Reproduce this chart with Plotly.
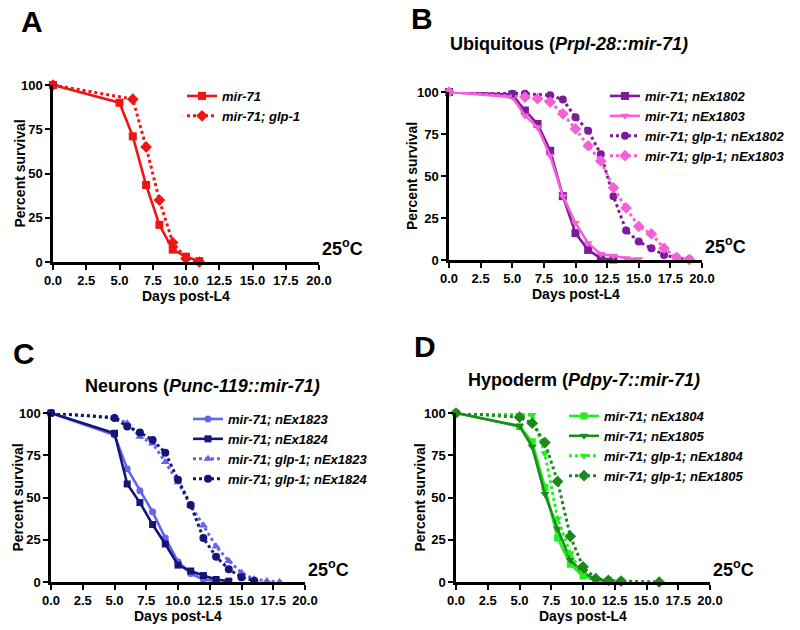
import plotly.graph_objects as go

# ---------------- Data ----------------
# Panel A
days_A_mir71 = [0, 5, 6, 7, 8, 9, 10, 11]
surv_A_mir71 = [100, 90, 71, 43.5, 21, 7, 3, 0.5]
days_A_glp1 = [0, 6, 7, 8, 9, 10, 11]
surv_A_glp1 = [100, 92, 65, 35, 11, 2, 0]

# Panel B
days_B_1802 = [0, 5, 6, 7, 8, 9, 10, 11, 12, 13]
surv_B_1802 = [100, 98.5, 89, 81, 65, 38, 16, 6, 1, 0.3]
days_B_1803 = [0, 5, 6, 7, 8, 9, 10, 11, 12, 13, 14, 15]
surv_B_1803 = [100, 97, 86, 79, 62, 38, 22, 10, 3.5, 2.5, 1, 0.5]
days_B_glp1_1802 = [0, 5, 6, 8, 9, 10, 11, 12, 13, 14, 15, 16, 17, 18, 19]
surv_B_glp1_1802 = [100, 99, 99, 98, 95.5, 85, 77, 63, 38, 17.5, 11, 7, 3, 1.4, 0.4]
days_B_glp1_1803 = [0, 6, 7, 8, 9, 10, 11, 12, 13, 14, 15, 16, 17, 18, 19]
surv_B_glp1_1803 = [100, 97, 96, 94, 87, 78, 68, 59, 43, 31, 20, 15.5, 7, 1.5, 0.3]

# Panel C
days_C_1823 = [0, 5, 6, 7, 8, 9, 10, 11, 12, 13]
surv_C_1823 = [100, 87, 67, 54, 41.5, 26, 12, 5, 1.5, 0.5]
days_C_1824 = [0, 5, 6, 7, 8, 9, 10, 11, 12, 13, 14]
surv_C_1824 = [100, 88, 58, 47, 34, 22.5, 10, 6.5, 3.8, 1.5, 0.5]
days_C_glp1_1823 = [0, 5, 6, 7, 8, 9, 10, 11, 12, 13, 14, 15, 16, 17, 18]
surv_C_glp1_1823 = [100, 97.5, 94, 86, 82, 71, 59, 45, 33.5, 21, 12.5, 5.5, 1.6, 0.6, 0]
days_C_glp1_1824 = [0, 5, 6, 7, 8, 9, 10, 11, 12, 13, 14, 15, 16]
surv_C_glp1_1824 = [100, 97, 92, 88.5, 84, 76.5, 60.5, 45.5, 26, 15, 7.5, 2.8, 0.8]

# Panel D
days_D_1804 = [0, 5, 6, 7, 8, 9, 10, 11, 12, 13]
surv_D_1804 = [100, 92, 83, 56, 26, 10.5, 3.5, 1.5, 1, 0.5]
days_D_1805 = [0, 5, 6, 7, 8, 9, 10, 11, 12]
surv_D_1805 = [100, 92.3, 80, 52, 31.5, 13, 5.5, 1.5, 0.5]
days_D_glp1_1804 = [0, 5, 6, 7, 8, 9, 10, 11]
surv_D_glp1_1804 = [100, 98.8, 98.8, 76, 37.5, 17, 4, 0.5]
days_D_glp1_1805 = [0, 5, 6, 7, 8, 9, 10, 11, 12, 13, 16]
surv_D_glp1_1805 = [100, 97.5, 94, 82.5, 59.5, 27, 9, 2, 1, 0.5, 0]

x_ticks = [0, 2.5, 5, 7.5, 10, 12.5, 15, 17.5, 20]
y_ticks = [0, 25, 50, 75, 100]

W, H = 800, 630
FONT = "Liberation Sans, Arial, sans-serif"

def px_x(p):
    return p / W

def px_y(p):
    return 1 - p / H

# panel plot areas in pixels: (left, right, top, bottom)
panels = {
    1: (53, 319, 85, 262),
    2: (449, 702, 92, 260),
    3: (51, 305, 413, 582),
    4: (456, 710, 413, 582),
}

RED = "#F01414"
PURPLE = "#7D1A9E"
PINK = "#F55FD8"
LBLUE = "#6464EC"
NAVY = "#14147A"
LGREEN = "#22EE22"
DGREEN = "#1B8A1B"

fig = go.Figure()

def add(idx, x, y, name, color, symbol, dotted, legend, msize=8):
    ax = "" if idx == 1 else str(idx)
    fig.add_trace(go.Scatter(
        x=x, y=y, name="<b><i>" + name + "</i></b>",
        mode="lines+markers",
        line=dict(color=color, width=3 if dotted else 2.6, dash="dot" if dotted else "solid"),
        marker=dict(color=color, symbol=symbol, size=msize),
        xaxis="x" + ax, yaxis="y" + ax, legend=legend, cliponaxis=False,
    ))

add(1, days_A_mir71, surv_A_mir71, "mir-71", RED, "square", False, "legend")
add(1, days_A_glp1, surv_A_glp1, "mir-71; glp-1", RED, "diamond", True, "legend", 9)

add(2, days_B_1802, surv_B_1802, "mir-71; nEx1802", PURPLE, "square", False, "legend2")
add(2, days_B_1803, surv_B_1803, "mir-71; nEx1803", PINK, "triangle-down", False, "legend2")
add(2, days_B_glp1_1802, surv_B_glp1_1802, "mir-71; glp-1; nEx1802", PURPLE, "circle", True, "legend2")
add(2, days_B_glp1_1803, surv_B_glp1_1803, "mir-71; glp-1; nEx1803", PINK, "diamond", True, "legend2", 9)

add(3, days_C_1823, surv_C_1823, "mir-71; nEx1823", LBLUE, "circle", False, "legend3", 7)
add(3, days_C_1824, surv_C_1824, "mir-71; nEx1824", NAVY, "square", False, "legend3", 7)
add(3, days_C_glp1_1823, surv_C_glp1_1823, "mir-71; glp-1; nEx1823", LBLUE, "triangle-up", True, "legend3")
add(3, days_C_glp1_1824, surv_C_glp1_1824, "mir-71; glp-1; nEx1824", NAVY, "circle", True, "legend3")

add(4, days_D_1804, surv_D_1804, "mir-71; nEx1804", LGREEN, "square", False, "legend4", 7)
add(4, days_D_1805, surv_D_1805, "mir-71; nEx1805", DGREEN, "triangle-down", False, "legend4")
add(4, days_D_glp1_1804, surv_D_glp1_1804, "mir-71; glp-1; nEx1804", LGREEN, "triangle-down", True, "legend4")
add(4, days_D_glp1_1805, surv_D_glp1_1805, "mir-71; glp-1; nEx1805", DGREEN, "diamond", True, "legend4", 9)

layout = dict(
    width=W, height=H, margin=dict(l=0, r=0, t=0, b=0, autoexpand=False),
    paper_bgcolor="white", plot_bgcolor="white",
    font=dict(family=FONT, color="black"),
    showlegend=True,
)

tickfont = dict(family=FONT, size=13, color="black", weight="bold")
for idx, (l, r, t, b) in panels.items():
    ax = "" if idx == 1 else str(idx)
    layout["xaxis" + ax] = dict(
        domain=[px_x(l), px_x(r)], range=[0, 20], anchor="y" + ax,
        tickvals=x_ticks, ticktext=[f"{v:.1f}" for v in x_ticks],
        ticks="outside", ticklen=5, tickwidth=2, tickcolor="black",
        showline=True, linecolor="black", linewidth=2.5,
        showgrid=False, zeroline=False, tickfont=tickfont, automargin=False,
    )
    layout["yaxis" + ax] = dict(
        domain=[px_y(b), px_y(t)], range=[0, 100], anchor="x" + ax,
        tickvals=y_ticks, ticks="outside", ticklen=5, tickwidth=2, tickcolor="black",
        showline=True, linecolor="black", linewidth=2.5,
        showgrid=False, zeroline=False, tickfont=tickfont, automargin=False,
    )

legfont = dict(family=FONT, size=13, color="black")
def leg(xp, yp):
    return dict(x=px_x(xp), y=px_y(yp), xanchor="left", yanchor="top",
                bgcolor="rgba(0,0,0,0)", borderwidth=0, font=legfont,
                itemwidth=30, tracegroupgap=0)

layout["legend"] = leg(182, 81)
layout["legend2"] = leg(605, 81)
layout["legend3"] = leg(188, 404)
layout["legend4"] = leg(564, 401)

annotations = []
def ann(text, xp, yp, size, xanchor="center"):
    annotations.append(dict(text=text, x=px_x(xp), y=px_y(yp), xref="paper", yref="paper",
                            xanchor=xanchor, yanchor="middle", showarrow=False,
                            font=dict(family=FONT, size=size, color="black", weight="bold")))

# panel letters
ann("A", 32, 22, 30)
ann("B", 422, 18, 30)
ann("C", 24, 353, 30)
ann("D", 425, 346, 30)

# titles
ann("Ubiquitous (<i>Prpl-28::mir-71)</i>", 569, 44, 18)
ann("Neurons (<i>Punc-119::mir-71)</i>", 202, 386, 18)
ann("Hypoderm (<i>Pdpy-7::mir-71)</i>", 584, 380, 18)

# axis titles and temperature
ylab_x = {1: 19, 2: 412, 3: 17, 4: 419}
for idx, (l, r, t, b) in panels.items():
    ann("Days post-L4", (l + r) / 2, b + 34, 14)
    annotations.append(dict(text="Percent survival", x=px_x(ylab_x[idx]), y=px_y((t + b) / 2),
                            xref="paper", yref="paper", textangle=-90,
                            xanchor="center", yanchor="middle", showarrow=False,
                            font=dict(family=FONT, size=14, color="black", weight="bold")))
    ann("25<sup>o</sup>C", r + 1, b - 14, 18, xanchor="left")

layout["annotations"] = annotations
fig.update_layout(**layout)
fig.write_html("out.html", config={"displayModeBar": False},
               post_script="document.body.style.margin='0px';")
